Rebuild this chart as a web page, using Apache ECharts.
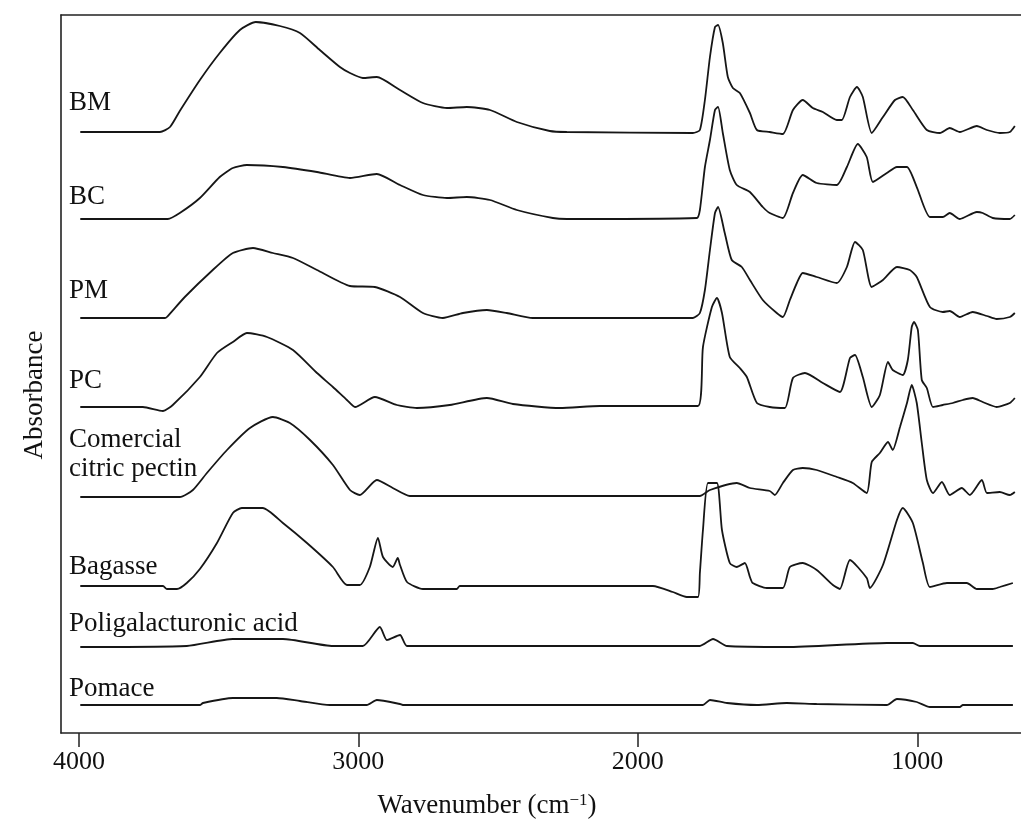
<!DOCTYPE html>
<html>
<head>
<meta charset="utf-8">
<script src="https://cdn.jsdelivr.net/npm/echarts@6/dist/echarts.min.js"></script>
<style>
html,body{margin:0;padding:0;background:#fff;}
#chart{width:1021px;height:823px;}
</style>
</head>
<body>
<div id="chart"></div>
<script>
// Wavenumber (cm-1), stacked absorbance (arbitrary units, offset per spectrum)
const seriesNames = ["BM", "BC", "PM", "PC", "Comercial citric pectin", "Bagasse", "Poligalacturonic acid", "Pomace"];
const xTickValues = [1000, 2000, 3000, 4000];

const BM = [[3995,6.01],[3710,6.01],[3674,6.06],[3639,6.22],[3567,6.53],[3496,6.80],[3424,7.03],[3367,7.11],[3281,7.07],[3209,7.00],[3138,6.83],[3066,6.66],[3030,6.60],[2984,6.55],[2934,6.56],[2851,6.43],[2769,6.30],[2683,6.25],[2612,6.26],[2529,6.23],[2433,6.11],[2315,6.02],[2254,6.01],[1803,6.00],[1778,6.03],[1760,6.33],[1742,6.76],[1724,7.06],[1713,7.08],[1696,6.90],[1678,6.56],[1660,6.45],[1635,6.40],[1599,6.20],[1574,6.03],[1528,6.01],[1481,5.99],[1445,6.23],[1410,6.33],[1374,6.25],[1338,6.21],[1288,6.13],[1270,6.13],[1241,6.36],[1216,6.46],[1195,6.36],[1163,6.00],[1123,6.16],[1080,6.33],[1052,6.36],[1016,6.23],[966,6.03],[919,6.00],[884,6.05],[848,6.01],[787,6.07],[751,6.03],[705,6.00],[669,6.01],[651,6.07]];

const BC = [[3995,5.14],[3682,5.14],[3639,5.20],[3567,5.35],[3496,5.56],[3449,5.65],[3399,5.68],[3270,5.66],[3148,5.61],[3030,5.55],[2934,5.59],[2851,5.48],[2769,5.38],[2683,5.35],[2612,5.36],[2529,5.33],[2433,5.23],[2304,5.15],[2254,5.14],[1789,5.15],[1778,5.23],[1760,5.66],[1742,5.93],[1724,6.23],[1713,6.26],[1696,6.00],[1671,5.63],[1646,5.48],[1599,5.41],[1553,5.26],[1528,5.20],[1481,5.15],[1445,5.40],[1410,5.58],[1360,5.50],[1288,5.48],[1252,5.66],[1213,5.89],[1181,5.76],[1159,5.51],[1109,5.60],[1073,5.66],[1037,5.66],[1002,5.46],[955,5.16],[909,5.16],[884,5.20],[848,5.14],[787,5.21],[766,5.20],[730,5.15],[669,5.14],[651,5.18]];

const PM = [[3995,4.15],[3692,4.15],[3685,4.16],[3621,4.36],[3521,4.63],[3449,4.80],[3377,4.85],[3306,4.80],[3234,4.75],[3148,4.63],[3030,4.47],[2941,4.46],[2851,4.36],[2769,4.20],[2698,4.15],[2626,4.20],[2540,4.23],[2469,4.20],[2376,4.15],[2254,4.15],[1803,4.15],[1778,4.20],[1760,4.43],[1742,4.83],[1724,5.20],[1713,5.26],[1689,5.00],[1664,4.73],[1628,4.66],[1599,4.53],[1553,4.33],[1503,4.20],[1481,4.16],[1456,4.33],[1431,4.50],[1410,4.60],[1360,4.56],[1288,4.50],[1252,4.66],[1223,4.91],[1195,4.83],[1163,4.46],[1123,4.53],[1073,4.66],[1027,4.63],[1002,4.56],[955,4.26],[909,4.21],[884,4.22],[848,4.16],[802,4.21],[751,4.17],[716,4.14],[669,4.16],[651,4.20]];

const PC = [[3995,3.26],[3771,3.26],[3699,3.22],[3664,3.28],[3567,3.56],[3506,3.80],[3449,3.91],[3399,4.00],[3327,3.96],[3234,3.83],[3148,3.60],[3091,3.46],[3041,3.33],[3012,3.26],[2941,3.36],[2862,3.28],[2791,3.25],[2673,3.28],[2540,3.35],[2447,3.29],[2279,3.25],[2136,3.27],[1785,3.27],[1767,3.86],[1735,4.26],[1717,4.35],[1699,4.20],[1671,3.76],[1635,3.65],[1610,3.56],[1574,3.30],[1528,3.26],[1474,3.25],[1445,3.55],[1402,3.60],[1338,3.50],[1277,3.41],[1241,3.75],[1223,3.78],[1195,3.56],[1163,3.26],[1134,3.38],[1105,3.71],[1088,3.63],[1052,3.58],[1034,3.73],[1020,4.06],[1012,4.11],[998,4.03],[984,3.53],[966,3.45],[944,3.26],[909,3.28],[873,3.30],[837,3.33],[802,3.35],[766,3.31],[716,3.26],[669,3.30],[651,3.35]];

const CCP = [[3995,2.36],[3639,2.36],[3592,2.43],[3542,2.60],[3470,2.83],[3388,3.05],[3306,3.16],[3245,3.10],[3173,2.93],[3091,2.68],[3030,2.43],[2995,2.38],[2934,2.53],[2877,2.45],[2816,2.37],[1778,2.37],[1742,2.43],[1646,2.50],[1599,2.45],[1528,2.42],[1510,2.38],[1481,2.50],[1445,2.63],[1410,2.65],[1360,2.63],[1288,2.56],[1231,2.50],[1181,2.40],[1163,2.71],[1134,2.80],[1105,2.91],[1088,2.83],[1062,3.06],[1037,3.30],[1020,3.48],[1002,3.30],[984,2.90],[966,2.53],[944,2.40],[912,2.51],[884,2.38],[841,2.45],[812,2.38],[769,2.53],[751,2.40],[705,2.41],[669,2.38],[651,2.41]];

const Bagasse = [[3995,1.47],[3699,1.47],[3685,1.44],[3649,1.44],[3614,1.50],[3567,1.64],[3506,1.90],[3449,2.20],[3417,2.25],[3342,2.25],[3270,2.10],[3184,1.90],[3091,1.66],[3041,1.48],[2995,1.48],[2959,1.66],[2930,1.95],[2912,1.76],[2877,1.66],[2859,1.75],[2851,1.68],[2826,1.51],[2769,1.44],[2648,1.44],[2637,1.47],[1946,1.47],[1875,1.41],[1825,1.36],[1785,1.36],[1778,1.60],[1767,2.03],[1749,2.50],[1717,2.50],[1699,2.03],[1671,1.70],[1646,1.66],[1617,1.70],[1599,1.56],[1589,1.50],[1539,1.45],[1481,1.45],[1456,1.66],[1410,1.70],[1360,1.63],[1302,1.48],[1277,1.44],[1241,1.73],[1181,1.55],[1170,1.45],[1123,1.68],[1073,2.13],[1052,2.25],[1016,2.10],[980,1.70],[955,1.46],[894,1.50],[823,1.50],[787,1.44],[730,1.44],[705,1.46],[658,1.50]];

const PGA = [[3995,0.86],[3614,0.87],[3449,0.94],[3270,0.94],[3091,0.87],[2984,0.87],[2923,1.06],[2898,0.93],[2851,0.98],[2826,0.87],[1778,0.87],[1731,0.94],[1681,0.87],[1467,0.86],[1109,0.90],[1016,0.90],[991,0.87],[658,0.87]];

const Pomace = [[3995,0.28],[3567,0.28],[3556,0.30],[3449,0.35],[3292,0.35],[3209,0.32],[3102,0.28],[2970,0.28],[2934,0.33],[2851,0.29],[2841,0.28],[1767,0.28],[1742,0.33],[1681,0.30],[1574,0.28],[1467,0.30],[1360,0.29],[1109,0.28],[1073,0.34],[1002,0.31],[955,0.26],[848,0.26],[837,0.28],[658,0.28]];

const allData = [BM, BC, PM, PC, CCP, Bagasse, PGA, Pomace];

const FONT = '"Liberation Serif", "Times New Roman", serif';
const chart = echarts.init(document.getElementById('chart'), null, {renderer: 'canvas'});

const labelSpecs = [
  {text: 'BM', top: 88},
  {text: 'BC', top: 182},
  {text: 'PM', top: 276},
  {text: 'PC', top: 366},
  {text: 'Comercial\ncitric pectin', top: 425},
  {text: 'Bagasse', top: 552},
  {text: 'Poligalacturonic acid', top: 609},
  {text: 'Pomace', top: 674}
];

const AXIS_COLOR = '#222';
chart.setOption({
  animation: false,
  backgroundColor: '#fff',
  grid: {left: 61, top: 15, right: 0, bottom: 90, show: false},
  xAxis: [{
    type: 'value', inverse: true, min: 629, max: 4064, position: 'bottom',
    axisLine: {show: true, onZero: false, lineStyle: {color: AXIS_COLOR, width: 1.6}},
    axisTick: {show: true, customValues: xTickValues, length: 14, inside: false, lineStyle: {color: AXIS_COLOR, width: 1.5}},
    axisLabel: {customValues: xTickValues, formatter: v => String(v), color: '#111', fontFamily: FONT, fontSize: 26, margin: 16},
    splitLine: {show: false}
  }, {
    type: 'value', inverse: true, min: 629, max: 4064, position: 'top',
    axisLine: {show: true, onZero: false, lineStyle: {color: AXIS_COLOR, width: 1.6}},
    axisTick: {show: false}, axisLabel: {show: false}, splitLine: {show: false}
  }],
  yAxis: {
    type: 'value', min: 0, max: 7.18, position: 'left',
    axisLine: {show: true, onZero: false, lineStyle: {color: AXIS_COLOR, width: 1.6}},
    axisTick: {show: false}, axisLabel: {show: false}, splitLine: {show: false}
  },
  series: allData.map((d, i) => ({
    name: seriesNames[i], type: 'line', data: d, showSymbol: false, symbol: 'none',
    smooth: 0.2,
    lineStyle: {color: '#161616', width: 1.8}, z: 3
  })),
  graphic: [
    ...labelSpecs.map(s => ({
      type: 'text', left: 69, top: s.top,
      style: {text: s.text, font: '27px ' + FONT, fill: '#111', lineHeight: 29}
    })),
    {
      type: 'text', x: 35, y: 395, rotation: Math.PI / 2,
      style: {text: 'Absorbance', font: '27px ' + FONT, fill: '#111', align: 'center', verticalAlign: 'middle'}
    },
    {
      type: 'text', x: 487, y: 806,
      style: {
        text: '{a|Wavenumber (cm}{s|−1}{a|)}',
        align: 'center', verticalAlign: 'middle',
        rich: {
          a: {fontFamily: FONT, fontSize: 27, fill: '#111', color: '#111'},
          s: {fontFamily: FONT, fontSize: 17, fill: '#111', color: '#111', verticalAlign: 'top', padding: [0,0,10,0]}
        }
      }
    }
  ]
});
</script>
</body>
</html>
